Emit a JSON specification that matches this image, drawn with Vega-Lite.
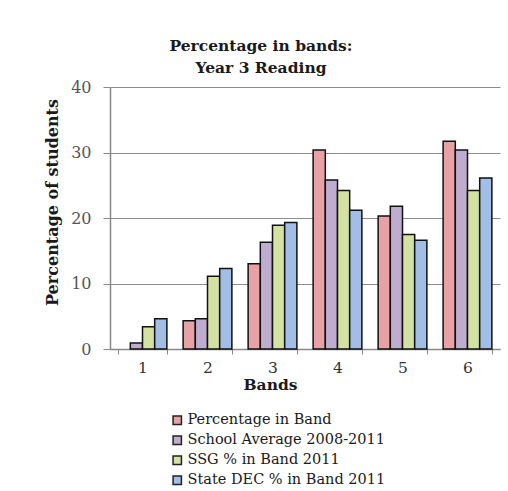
{
  "$schema": "https://vega.github.io/schema/vega-lite/v6.json",
  "autosize": "none",
  "width": 390,
  "height": 262,
  "padding": {"left": 110, "top": 87, "right": 8, "bottom": 142},
  "background": "white",
  "title": {
    "text": ["Percentage in bands:", "Year 3 Reading"],
    "font": "DejaVu Serif",
    "fontSize": 15.5,
    "fontWeight": "bold",
    "color": "#1a1a1a",
    "anchor": "middle",
    "dx": -44,
    "offset": 3,
    "lineHeight": 22
  },
  "data": {
    "values": [
      {"band": "1", "series": "School Average 2008-2011", "value": 0.9},
      {"band": "1", "series": "SSG % in Band 2011", "value": 3.4},
      {"band": "1", "series": "State DEC % in Band 2011", "value": 4.6},
      {"band": "2", "series": "Percentage in Band", "value": 4.3},
      {"band": "2", "series": "School Average 2008-2011", "value": 4.6},
      {"band": "2", "series": "SSG % in Band 2011", "value": 11.1},
      {"band": "2", "series": "State DEC % in Band 2011", "value": 12.3},
      {"band": "3", "series": "Percentage in Band", "value": 13.0},
      {"band": "3", "series": "School Average 2008-2011", "value": 16.3},
      {"band": "3", "series": "SSG % in Band 2011", "value": 18.9},
      {"band": "3", "series": "State DEC % in Band 2011", "value": 19.3},
      {"band": "4", "series": "Percentage in Band", "value": 30.4},
      {"band": "4", "series": "School Average 2008-2011", "value": 25.8},
      {"band": "4", "series": "SSG % in Band 2011", "value": 24.2},
      {"band": "4", "series": "State DEC % in Band 2011", "value": 21.2},
      {"band": "5", "series": "Percentage in Band", "value": 20.3},
      {"band": "5", "series": "School Average 2008-2011", "value": 21.8},
      {"band": "5", "series": "SSG % in Band 2011", "value": 17.5},
      {"band": "5", "series": "State DEC % in Band 2011", "value": 16.6},
      {"band": "6", "series": "Percentage in Band", "value": 31.7},
      {"band": "6", "series": "School Average 2008-2011", "value": 30.4},
      {"band": "6", "series": "SSG % in Band 2011", "value": 24.2},
      {"band": "6", "series": "State DEC % in Band 2011", "value": 26.1}
    ]
  },
  "mark": {"type": "bar", "stroke": "#111111", "strokeWidth": 1.5},
  "encoding": {
    "x": {
      "field": "band",
      "type": "nominal",
      "scale": {"domain": ["1", "2", "3", "4", "5", "6"], "paddingInner": 0.25, "paddingOuter": 0.125},
      "axis": {
        "title": "Bands",
        "titleFont": "DejaVu Serif",
        "titleFontSize": 15.5,
        "titleFontWeight": "bold",
        "titleColor": "#1a1a1a",
        "titlePadding": 2,
        "titleX": 160,
        "titleAlign": "center",
        "labelFont": "DejaVu Serif",
        "labelFontSize": 15.5,
        "labelColor": "#333333",
        "labelAngle": 0,
        "labelPadding": 6,
        "tickBand": "extent",
        "tickColor": "#888888",
        "tickSize": 5,
        "domainColor": "#888888",
        "domainWidth": 1.5
      }
    },
    "xOffset": {
      "field": "series",
      "type": "nominal",
      "scale": {"domain": ["Percentage in Band", "School Average 2008-2011", "SSG % in Band 2011", "State DEC % in Band 2011"], "paddingInner": 0, "paddingOuter": 0}
    },
    "y": {
      "field": "value",
      "type": "quantitative",
      "scale": {"domain": [0, 40]},
      "axis": {
        "title": "Percentage of students",
        "titleFont": "DejaVu Serif",
        "titleFontSize": 16,
        "titleFontWeight": "bold",
        "titleColor": "#1a1a1a",
        "titlePadding": 10,
        "titleY": 115,
        "titleAnchor": "middle",
        "values": [0, 10, 20, 30, 40],
        "labelFont": "DejaVu Serif",
        "labelFontSize": 16,
        "labelColor": "#555555",
        "labelPadding": 12,
        "tickColor": "#888888",
        "tickSize": 7,
        "domainColor": "#888888",
        "domainWidth": 1.5,
        "grid": true,
        "gridColor": "#8c8c8c",
        "gridWidth": 1.2
      }
    },
    "color": {
      "field": "series",
      "type": "nominal",
      "scale": {
        "domain": ["Percentage in Band", "School Average 2008-2011", "SSG % in Band 2011", "State DEC % in Band 2011"],
        "range": ["#e8a2a6", "#bfadcf", "#d3e1a2", "#a2bde6"]
      },
      "legend": {
        "title": null,
        "orient": "none",
        "legendX": 60,
        "legendY": 326,
        "symbolType": "square",
        "symbolSize": 70,
        "symbolStrokeColor": "#222222",
        "symbolStrokeWidth": 1.5,
        "labelFont": "DejaVu Serif",
        "labelFontSize": 14.5,
        "labelColor": "#1a1a1a",
        "labelOffset": 3,
        "rowPadding": 4,
        "labelLimit": 400
      }
    }
  },
  "config": {
    "view": {"stroke": null}
  }
}
